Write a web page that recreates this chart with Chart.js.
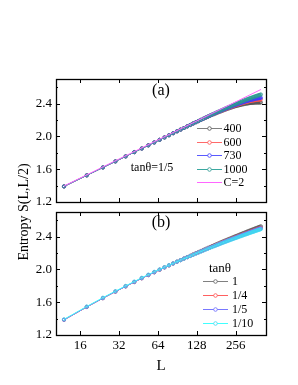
<!DOCTYPE html>
<html><head><meta charset="utf-8">
<script src="https://cdn.jsdelivr.net/npm/chart.js@4.4.1/dist/chart.umd.min.js"></script>
<style>html,body{margin:0;padding:0;background:#fff;}#wrap{position:relative;width:298px;height:385px;}canvas{position:absolute;left:0;top:0;}</style>
</head><body><div id="wrap"><canvas id="ca" width="298" height="385"></canvas><canvas id="cb" width="298" height="385"></canvas></div>
<script>
// ---- data ----
const L = [12,18,24,30,36,42,48,54,60,66,72,78,84,90,96,102,108,114,120,126,132,138,144,150,156,162,168,174,180,186,192,198,204,210,216,222,228,234,240,246,252,258,264,270,276,282,288,294,300,306,312,318,324,330,336,342,348,354,360,366,372,378,384,390,396,402];
const xTicks = [16,32,64,128,256];
const yTicks = [1.2,1.6,2.0,2.4];
const yMinor = [1.4,1.8,2.2,2.6];

// panel (a): tanθ = 1/5, different bond dimensions
const a400 = [1.390,1.525,1.621,1.695,1.756,1.808,1.852,1.891,1.926,1.958,1.987,2.014,2.039,2.062,2.083,
 2.103,2.122,2.139,2.157,2.172,2.186,2.200,2.214,2.226,2.238,2.250,2.261,2.270,2.280,2.290,2.298,2.306,2.314,2.322,2.329,2.336,2.342,2.348,2.354,2.360,2.365,2.370,2.373,2.378,2.382,2.385,2.389,2.392,2.395,2.398,2.400,2.402,2.405,2.406,2.408,2.409,2.409,2.411,2.412,2.412,2.413,2.413,2.413,2.413,2.414,2.414];
const a600 = [1.390,1.525,1.621,1.695,1.756,1.808,1.852,1.891,1.926,1.958,1.987,2.014,2.039,2.062,2.083,
 2.103,2.122,2.139,2.157,2.173,2.187,2.201,2.215,2.228,2.240,2.252,2.263,2.273,2.284,2.294,2.302,2.311,2.319,2.328,2.335,2.343,2.350,2.357,2.364,2.370,2.375,2.381,2.386,2.391,2.396,2.400,2.405,2.409,2.413,2.417,2.420,2.423,2.427,2.430,2.433,2.435,2.437,2.439,2.442,2.443,2.445,2.446,2.447,2.448,2.450,2.451];
const a730 = [1.390,1.525,1.621,1.695,1.756,1.808,1.852,1.891,1.926,1.958,1.987,2.014,2.039,2.062,2.083,
 2.103,2.122,2.140,2.157,2.173,2.187,2.202,2.215,2.229,2.241,2.253,2.264,2.275,2.285,2.295,2.304,2.313,2.322,2.331,2.338,2.347,2.353,2.361,2.368,2.375,2.381,2.387,2.392,2.398,2.403,2.408,2.413,2.418,2.422,2.427,2.430,2.434,2.438,2.442,2.445,2.448,2.450,2.454,2.457,2.459,2.462,2.463,2.465,2.467,2.469,2.471];
const a1000 = [1.390,1.525,1.621,1.695,1.756,1.808,1.852,1.891,1.926,1.958,1.987,2.014,2.039,2.062,2.083,
 2.103,2.122,2.140,2.158,2.173,2.188,2.203,2.217,2.230,2.243,2.255,2.267,2.277,2.289,2.299,2.309,2.318,2.327,2.337,2.345,2.354,2.361,2.369,2.377,2.385,2.392,2.399,2.404,2.411,2.417,2.423,2.429,2.435,2.440,2.446,2.451,2.455,2.461,2.465,2.470,2.474,2.478,2.482,2.487,2.490,2.494,2.497,2.501,2.504,2.508,2.511];
const c2L = [12,402];
const c2S = [1.395,2.572];
const labelsA = ['400','600','730','1000','C=2'];

// panel (b): different tanθ
const b1 = [1.385,1.542,1.649,1.729,1.793,1.846,1.892,1.931,1.965,1.996,2.024,2.049,2.072,2.094,2.113,
 2.133,2.151,2.167,2.183,2.199,2.212,2.226,2.239,2.251,2.263,2.274,2.285,2.295,2.305,2.314,2.324,2.333,2.342,2.350,2.357,2.366,2.373,2.380,2.387,2.394,2.401,2.407,2.413,2.419,2.426,2.431,2.437,2.443,2.448,2.453,2.459,2.464,2.469,2.474,2.479,2.483,2.488,2.492,2.497,2.501,2.505,2.509,2.513,2.518,2.521,2.525];
const b14 = [1.385,1.542,1.649,1.729,1.793,1.846,1.892,1.931,1.965,1.996,2.024,2.049,2.072,2.094,2.113,
 2.132,2.149,2.165,2.180,2.195,2.208,2.221,2.233,2.245,2.256,2.267,2.277,2.287,2.296,2.305,2.314,2.323,2.331,2.339,2.346,2.354,2.361,2.368,2.374,2.381,2.387,2.393,2.399,2.405,2.411,2.416,2.422,2.427,2.432,2.437,2.442,2.447,2.452,2.457,2.461,2.465,2.470,2.474,2.478,2.482,2.486,2.490,2.494,2.498,2.501,2.505];
const b15 = [1.385,1.542,1.649,1.729,1.793,1.846,1.892,1.931,1.965,1.996,2.024,2.049,2.072,2.094,2.113,
 2.132,2.149,2.165,2.179,2.194,2.207,2.220,2.232,2.244,2.255,2.266,2.275,2.285,2.294,2.303,2.312,2.321,2.329,2.337,2.344,2.352,2.359,2.366,2.372,2.378,2.384,2.390,2.396,2.402,2.408,2.413,2.419,2.424,2.429,2.434,2.439,2.444,2.449,2.454,2.458,2.461,2.466,2.470,2.474,2.478,2.482,2.486,2.490,2.494,2.497,2.501];
const b110 = [1.391,1.548,1.655,1.735,1.799,1.852,1.898,1.937,1.971,2.001,2.028,2.052,2.074,2.095,2.113,
 2.131,2.148,2.163,2.178,2.192,2.205,2.217,2.229,2.241,2.251,2.262,2.271,2.281,2.290,2.299,2.307,2.316,2.324,2.331,2.338,2.346,2.352,2.359,2.365,2.372,2.378,2.383,2.389,2.395,2.401,2.405,2.411,2.416,2.421,2.426,2.430,2.435,2.440,2.445,2.449,2.453,2.457,2.461,2.465,2.469,2.473,2.477,2.480,2.484,2.487,2.491];
const labelsB = ['1','1/4','1/5','1/10'];

// ---- helpers ----
const FONT = "'Liberation Serif','Times New Roman',serif";
const W = 298, H = 385;
const pts = (xs, ys) => xs.map((x, i) => ({x: x, y: ys[i]}));

function series(label, ys, line, mark, order) {
  return {label, data: pts(L, ys), borderColor: line, borderWidth: 1,
    pointRadius: 1.6, pointBorderWidth: 0.8, pointBorderColor: mark,
    pointBackgroundColor: 'rgba(255,255,255,0)', pointStyle: 'circle',
    tension: 0, fill: false, order};
}

const framePlugin = {
  id: 'frame',
  afterDraw(chart) {
    const {ctx, chartArea: a, scales: {x, y}} = chart;
    ctx.save();
    ctx.strokeStyle = '#000';
    ctx.lineWidth = 1;
    const seg = (x1, y1, x2, y2) => { ctx.beginPath(); ctx.moveTo(x1, y1); ctx.lineTo(x2, y2); ctx.stroke(); };
    xTicks.forEach(v => {
      const p = Math.round(x.getPixelForValue(v)) + 0.5;
      seg(p, a.bottom, p, a.bottom - 4);
      seg(p, a.top, p, a.top + 4);
    });
    yTicks.forEach(v => {
      const p = Math.round(y.getPixelForValue(v)) + 0.5;
      seg(a.left, p, a.left + 4, p);
      seg(a.right, p, a.right - 4, p);
    });
    yMinor.forEach(v => {
      const p = Math.round(y.getPixelForValue(v)) + 0.5;
      seg(a.left, p, a.left + 2, p);
      seg(a.right, p, a.right - 2, p);
    });
    ctx.lineWidth = 1.3;
    ctx.strokeRect(a.left + 0.5, a.top + 0.5, a.right - a.left, a.bottom - a.top);
    ctx.restore();
  }
};

function drawLegend(chart, order, x1, x2, tx, y0, dy) {
  const ctx = chart.ctx;
  ctx.save();
  ctx.font = '12px ' + FONT;
  ctx.textAlign = 'left';
  ctx.textBaseline = 'middle';
  order.forEach((di, k) => {
    const ds = chart.data.datasets[di];
    const yy = Math.round(y0 + k * dy) + 0.5;
    ctx.strokeStyle = ds.borderColor;
    ctx.lineWidth = 1;
    ctx.beginPath(); ctx.moveTo(x1, yy); ctx.lineTo(x2, yy); ctx.stroke();
    if (ds.pointRadius > 0) {
      ctx.strokeStyle = ds.pointBorderColor;
      ctx.fillStyle = '#fff';
      ctx.lineWidth = 0.8;
      ctx.beginPath(); ctx.arc((x1 + x2) / 2, yy, 1.8, 0, Math.PI * 2); ctx.fill(); ctx.stroke();
    }
    ctx.fillStyle = '#000';
    ctx.fillText(ds.label, tx, yy + 0.5);
  });
  ctx.restore();
}

const textA = {
  id: 'textA',
  afterDraw(chart) {
    const ctx = chart.ctx, a = chart.chartArea;
    ctx.save();
    ctx.fillStyle = '#000';
    ctx.textAlign = 'center';
    ctx.textBaseline = 'middle';
    ctx.font = '16px ' + FONT;
    ctx.fillText('(a)', (a.left + a.right) / 2, 91);
    ctx.font = '12px ' + FONT;
    ctx.fillText('tanθ=1/5', 152, 168);
    ctx.restore();
    drawLegend(chart, [0, 1, 2, 3, 4], 197, 222, 223.5, 128, 13.5);
  }
};

const textB = {
  id: 'textB',
  afterDraw(chart) {
    const ctx = chart.ctx, a = chart.chartArea;
    ctx.save();
    ctx.fillStyle = '#000';
    ctx.textAlign = 'center';
    ctx.textBaseline = 'middle';
    ctx.font = '16px ' + FONT;
    ctx.fillText('(b)', (a.left + a.right) / 2, 223);
    ctx.font = '13px ' + FONT;
    ctx.fillText('tanθ', 220, 269);
    ctx.font = '15px ' + FONT;
    ctx.textBaseline = 'alphabetic';
    ctx.fillText('L', (a.left + a.right) / 2, 370);
    ctx.translate(28, 212);
    ctx.rotate(-Math.PI / 2);
    ctx.font = '14px ' + FONT;
    ctx.fillText('Entropy S(L,L/2)', 0, 0);
    ctx.restore();
    drawLegend(chart, [0, 1, 2, 3], 203, 228, 232, 281, 14.1);
  }
};

function makeChart(id, datasets, top, bottom, showX, extra) {
  return new Chart(document.getElementById(id), {
    type: 'line',
    data: {datasets},
    options: {
      responsive: false, animation: false, devicePixelRatio: 1,
      layout: {padding: {top: top, left: 0, right: W - 266, bottom: 0}},
      plugins: {legend: {display: false}, tooltip: {enabled: false}},
      scales: {
        x: {type: 'logarithmic', min: 10.4, max: 440,
          afterBuildTicks: s => { s.ticks = xTicks.map(v => ({value: v})); },
          afterFit: s => { s.height = H - bottom; },
          grid: {display: false, drawTicks: false}, border: {display: false},
          ticks: {display: showX, padding: 3, color: '#000', autoSkip: false, maxRotation: 0,
            font: {family: FONT, size: 13}, callback: v => String(v)}},
        y: {type: 'linear', min: 1.2, max: 2.7,
          afterBuildTicks: s => { s.ticks = yTicks.map(v => ({value: v})); },
          afterFit: s => { s.width = 56; },
          grid: {display: false, drawTicks: false}, border: {display: false},
          ticks: {padding: 4, color: '#000', font: {family: FONT, size: 13}, callback: v => Number(v).toFixed(1)}}
      }
    },
    plugins: [framePlugin, extra]
  });
}

makeChart('ca', [
  series(labelsA[0], a400, '#808080', '#505050', 5),
  series(labelsA[1], a600, '#ff6a6a', '#ff5050', 4),
  series(labelsA[2], a730, '#5a5aff', '#3c3cff', 3),
  series(labelsA[3], a1000, '#3aa8a0', '#2a9890', 2),
  {label: labelsA[4], data: pts(c2L, c2S), borderColor: '#ff66ff', borderWidth: 1, pointRadius: 0, fill: false, order: 1}
], 79, 202, false, textA);

makeChart('cb', [
  series(labelsB[0], b1, '#808080', '#606060', 5),
  series(labelsB[1], b14, '#ff6060', '#ff5050', 4),
  series(labelsB[2], b15, '#7878ff', '#6a6aff', 3),
  series(labelsB[3], b110, '#40ffff', '#40d8f0', 2)
], 212, 335, true, textB);
</script>
</body></html>
